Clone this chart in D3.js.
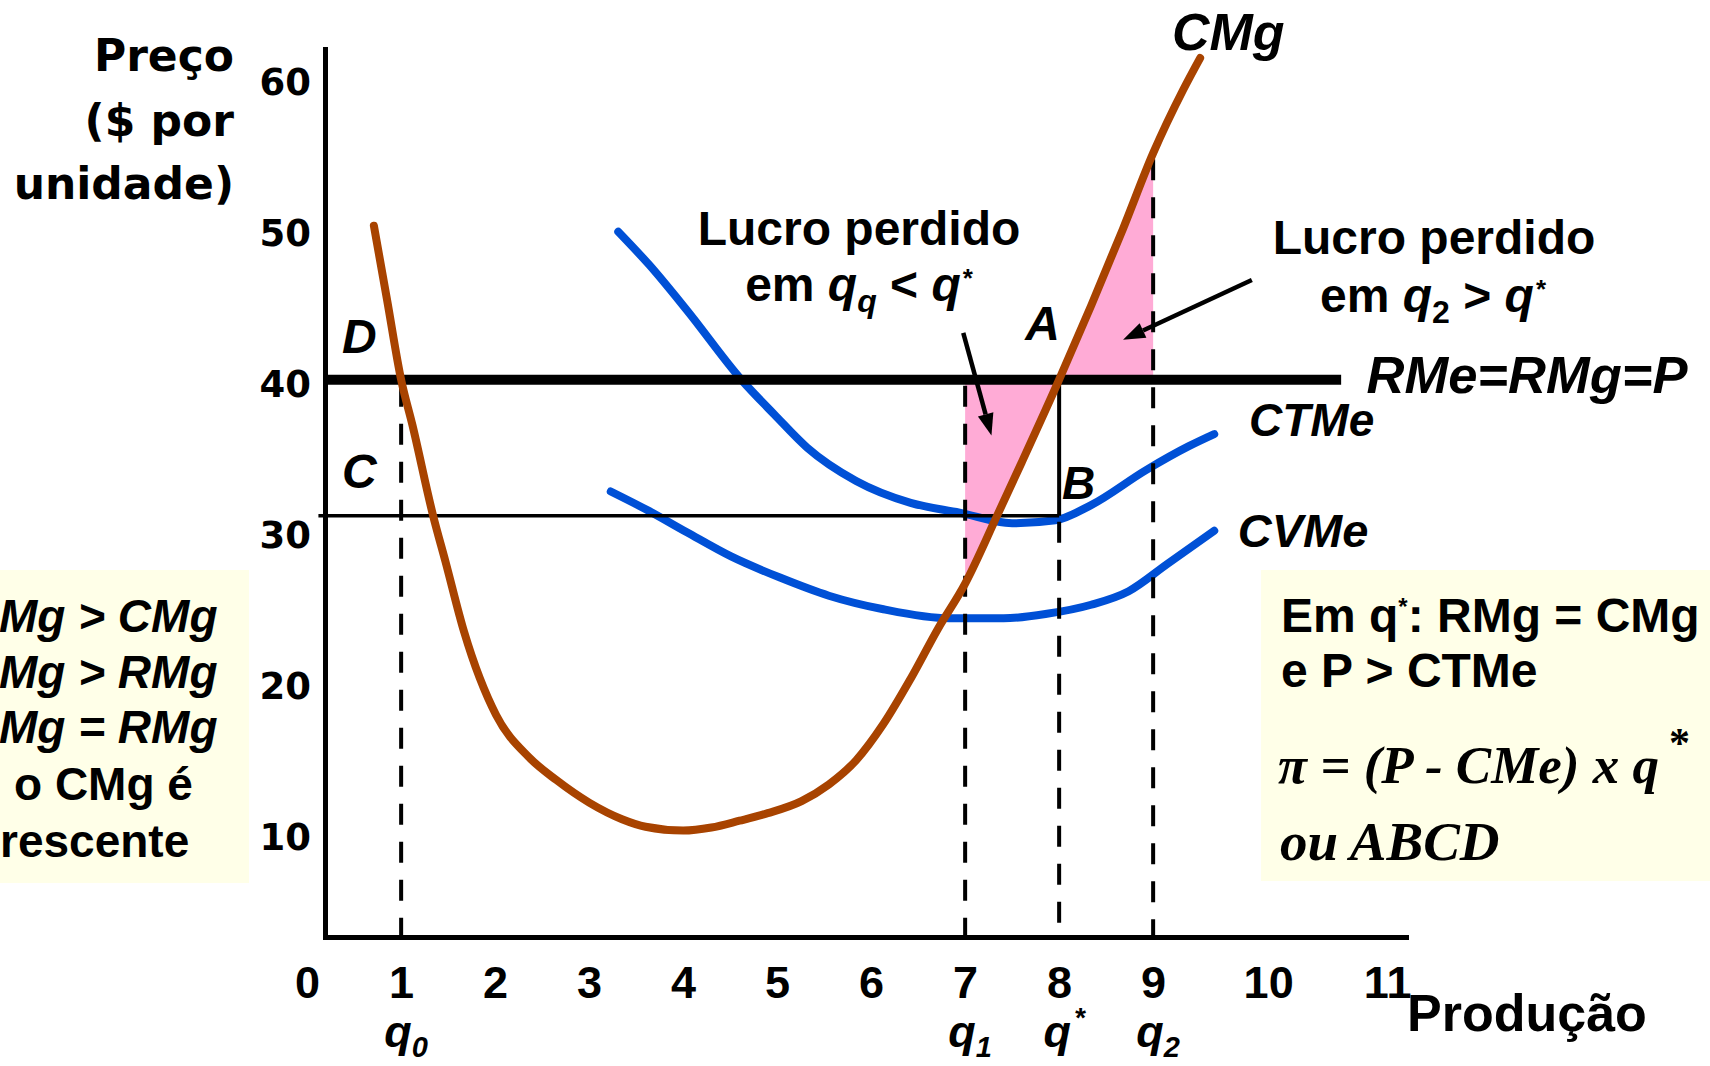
<!DOCTYPE html>
<html><head><meta charset="utf-8">
<script src="https://cdn.jsdelivr.net/npm/d3@7"></script>
<style>
html,body{margin:0;padding:0;background:#fff;overflow:hidden}
svg{display:block}
</style></head><body>
<svg id="chart" width="1710" height="1066"></svg>
<script>
// Axis ticks
const qTicks = [0, 1, 2, 3, 4, 5, 6, 7, 8, 9, 10, 11];
const priceTicks = [10, 20, 30, 40, 50, 60];

// Custo marginal (CMg)
const cmgQ = [0.71, 0.85, 1.0, 1.12, 1.34, 1.47, 1.67, 2.01, 2.36, 2.65, 3.0, 3.35, 3.6, 4.0, 4.3, 4.6, 4.9, 5.26, 5.55, 5.84, 6.13, 6.42, 6.71, 7.0, 7.34, 7.6, 8.0, 8.34, 8.68, 9.0, 9.32, 9.5];
const cmgP = [50.2, 45.3, 40.0, 37.0, 31.0, 28.0, 23.3, 17.8, 15.0, 13.5, 12.0, 10.9, 10.4, 10.15, 10.35, 10.8, 11.3, 12.1, 13.2, 14.8, 17.2, 20.2, 23.5, 26.5, 31.0, 34.5, 40.0, 44.9, 50.0, 55.0, 59.2, 61.3];

// Custo total médio (CTMe)
const ctmeQ = [3.31, 3.64, 4.04, 4.62, 4.97, 5.32, 5.84, 6.42, 6.94, 7.5, 7.96, 8.34, 8.92, 9.38, 9.65];
const ctmeP = [49.8, 47.6, 44.6, 40.0, 37.7, 35.5, 33.3, 31.85, 31.2, 30.5, 30.7, 31.7, 34.0, 35.6, 36.4];

// Custo variável médio (CVMe)
const cvmeQ = [3.23, 3.64, 4.04, 4.51, 5.03, 5.55, 6.13, 6.83, 7.41, 7.87, 8.34, 8.74, 9.15, 9.65];
const cvmeP = [32.6, 31.3, 29.9, 28.3, 26.9, 25.7, 24.8, 24.2, 24.2, 24.5, 25.1, 26.0, 27.8, 30.0];

// Market price and reference quantities
const marketPrice = 40;       // RMe = RMg = P
const avgCostAtQStar = 31;    // CTMe at q*
const qZero = 1, qOne = 7, qStar = 8, qTwo = 9;
const qMarks = [
  { q: 1, sub: "0" },
  { q: 7, sub: "1" },
  { q: 8, sup: "*" },
  { q: 9, sub: "2" }
];

const SANS = "'Liberation Sans', Arial, sans-serif";
const WIDE = "'DejaVu Sans', Verdana, sans-serif";
const SERIF = "'Liberation Serif', 'Times New Roman', serif";
const BROWN = "#a84300", BLUE = "#0050d6", PINK = "#ffabd6", NOTE = "#ffffe8";

const svg = d3.select("#chart");

const x = d3.scaleLinear().domain([0.19, 11.69]).range([325, 1406]);
const y = d3.scaleLinear().domain([3.1, 61.9]).range([937, 49]);

const toPts = (qs, ps) => qs.map((q, i) => ({ q, v: ps[i] }));
const cmg = toPts(cmgQ, cmgP);
const ctme = toPts(ctmeQ, ctmeP);
const cvme = toPts(cvmeQ, cvmeP);
const curve = d3.curveMonotoneX;
const line = d3.line().x(d => x(d.q)).y(d => y(d.v)).curve(curve);

// Note boxes
svg.append("rect").attr("x", 0).attr("y", 570).attr("width", 249).attr("height", 313).attr("fill", NOTE);
svg.append("rect").attr("x", 1261).attr("y", 570).attr("width", 449).attr("height", 311).attr("fill", NOTE);

// Lost-profit areas between CMg and price, from q1 to q2
const defs = svg.append("defs");
defs.append("clipPath").attr("id", "lostProfit")
  .append("rect")
  .attr("x", x(qOne)).attr("y", 0)
  .attr("width", x(qTwo) - x(qOne)).attr("height", 1066);
svg.append("path")
  .datum(cmg)
  .attr("clip-path", "url(#lostProfit)")
  .attr("fill", PINK)
  .attr("d", d3.area().x(d => x(d.q)).y0(y(marketPrice)).y1(d => y(d.v)).curve(curve));

// Average cost curves
svg.append("path").datum(ctme).attr("d", line)
  .attr("fill", "none").attr("stroke", BLUE).attr("stroke-width", 8).attr("stroke-linecap", "round");
svg.append("path").datum(cvme).attr("d", line)
  .attr("fill", "none").attr("stroke", BLUE).attr("stroke-width", 8).attr("stroke-linecap", "round");

// Dashed guides down to the quantity axis
const cmgAtQTwo = cmgP[cmgQ.indexOf(qTwo)];
const guides = [
  { q: qZero, top: marketPrice },
  { q: qOne, top: marketPrice },
  { q: qStar, top: avgCostAtQStar },
  { q: qTwo, top: cmgAtQTwo }
];
svg.selectAll("line.guide").data(guides).join("line")
  .attr("class", "guide")
  .attr("x1", d => x(d.q)).attr("x2", d => x(d.q))
  .attr("y1", d => y(d.top) + 6).attr("y2", y(3.1))
  .attr("stroke", "#000").attr("stroke-width", 4)
  .attr("stroke-dasharray", "21,17");

// Profit rectangle edges (C-B and B-A)
svg.append("line")
  .attr("x1", x(0.12)).attr("x2", x(qStar))
  .attr("y1", y(avgCostAtQStar)).attr("y2", y(avgCostAtQStar))
  .attr("stroke", "#000").attr("stroke-width", 3.5);
svg.append("line")
  .attr("x1", x(qStar)).attr("x2", x(qStar))
  .attr("y1", y(marketPrice)).attr("y2", y(avgCostAtQStar))
  .attr("stroke", "#000").attr("stroke-width", 4);

// Price line
svg.append("line")
  .attr("x1", x(0.19)).attr("x2", x(11))
  .attr("y1", y(marketPrice)).attr("y2", y(marketPrice))
  .attr("stroke", "#000").attr("stroke-width", 10);

// Marginal cost curve
svg.append("path").datum(cmg).attr("d", line)
  .attr("fill", "none").attr("stroke", BROWN).attr("stroke-width", 8).attr("stroke-linecap", "round");

// Axes
const yAxis = svg.append("g")
  .attr("transform", `translate(${x(0.19)},0)`)
  .call(d3.axisLeft(y).tickValues(priceTicks).tickSize(0).tickSizeOuter(0).tickPadding(14));
yAxis.select(".domain").attr("stroke", "#000").attr("stroke-width", 5).attr("stroke-linecap", "square");
yAxis.selectAll("text")
  .attr("font-family", WIDE).attr("font-weight", "bold").attr("font-size", 37)
  .attr("fill", "#000").attr("dy", "0.46em");

const xAxis = svg.append("g")
  .attr("transform", `translate(0,${y(3.1)})`)
  .call(d3.axisBottom(x).tickValues(qTicks).tickSize(0).tickSizeOuter(0).tickPadding(29));
xAxis.select(".domain").attr("stroke", "#000").attr("stroke-width", 5).attr("stroke-linecap", "square");
xAxis.selectAll("text")
  .attr("font-family", SANS).attr("font-weight", "bold").attr("font-size", 45)
  .attr("fill", "#000")
  .attr("dx", d => d === 10 ? 21 : d === 11 ? 46 : 0);

// Quantity markers under the axis
const qm = svg.append("g").attr("font-family", SANS).attr("font-weight", "bold")
  .attr("font-style", "italic").attr("fill", "#000");
qMarks.forEach(m => {
  const t = qm.append("text").attr("x", x(m.q) + 5).attr("y", 1047)
    .attr("text-anchor", "middle").attr("font-size", 45);
  t.append("tspan").text("q");
  if (m.sub) t.append("tspan").attr("font-size", 29).attr("dy", 10).text(m.sub);
  if (m.sup) t.append("tspan").attr("font-size", 28).attr("dy", -20).attr("dx", 3).text(m.sup);
});

// Axis titles
const yTitle = svg.append("text").attr("font-family", WIDE).attr("font-weight", "bold")
  .attr("font-size", 44).attr("text-anchor", "end").attr("fill", "#000");
[["Preço", 71], ["($ por", 136], ["unidade)", 199]].forEach(([t, by]) =>
  yTitle.append("tspan").attr("x", 234).attr("y", by).text(t));

svg.append("text").attr("x", 1407).attr("y", 1031)
  .attr("font-family", SANS).attr("font-weight", "bold").attr("font-size", 52)
  .attr("fill", "#000").text("Produção");

// Curve and point labels
const labels = [
  { t: "CMg", q: 9.2, v: 61.85, size: 52 },
  { t: "RMe=RMg=P", q: 11.27, v: 39.1, size: 52.5 },
  { t: "CTMe", q: 10.02, v: 36.3, size: 46 },
  { t: "CVMe", q: 9.9, v: 28.9, size: 47 },
  { t: "D", q: 0.37, v: 41.8, size: 48 },
  { t: "C", q: 0.37, v: 32.85, size: 48 },
  { t: "A", q: 7.64, v: 42.6, size: 48 },
  { t: "B", q: 8.03, v: 32.1, size: 46 }
];
svg.append("g").selectAll("text").data(labels).join("text")
  .attr("x", d => x(d.q)).attr("y", d => y(d.v))
  .attr("font-family", SANS).attr("font-weight", "bold").attr("font-style", "italic")
  .attr("font-size", d => d.size).attr("fill", "#000")
  .text(d => d.t);

// Lost-profit callouts
function rich(px, py, parts, anchor, size, family) {
  const t = svg.append("text").attr("x", px).attr("y", py)
    .attr("text-anchor", anchor || "start")
    .attr("font-family", family || SANS).attr("font-weight", "bold")
    .attr("font-size", size || 48).attr("fill", "#000");
  parts.forEach(p => {
    const s = t.append("tspan").text(p.t);
    if (p.it) s.attr("font-style", "italic");
    if (p.size) s.attr("font-size", p.size);
    if (p.dy) s.attr("dy", p.dy);
    if (p.dx) s.attr("dx", p.dx);
  });
  return t;
}
rich(859, 245, [{ t: "Lucro perdido" }], "middle");
rich(859, 301, [
  { t: "em " }, { t: "q", it: 1 }, { t: "q", it: 1, size: 32, dy: 11 },
  { t: " < ", dy: -11 }, { t: "q", it: 1 }, { t: "*", size: 26, dy: -14, dx: 2 }
], "middle");
rich(1434, 254, [{ t: "Lucro perdido" }], "middle");
rich(1433, 312, [
  { t: "em " }, { t: "q", it: 1 }, { t: "2", size: 32, dy: 11 },
  { t: " > ", dy: -11 }, { t: "q", it: 1 }, { t: "*", size: 26, dy: -14, dx: 2 }
], "middle");

// Arrows pointing at the shaded areas
const arrows = [
  { from: [6.98, 43.1], to: [7.28, 36.3] },
  { from: [10.05, 46.6], to: [8.68, 42.65] }
];
arrows.forEach(a => {
  const x1 = x(a.from[0]), y1 = y(a.from[1]), x2 = x(a.to[0]), y2 = y(a.to[1]);
  const ang = Math.atan2(y2 - y1, x2 - x1);
  const len = 22, half = 8;
  const bx = x2 - len * Math.cos(ang), by = y2 - len * Math.sin(ang);
  svg.append("line").attr("x1", x1).attr("y1", y1).attr("x2", bx).attr("y2", by)
    .attr("stroke", "#000").attr("stroke-width", 4.5);
  svg.append("path")
    .attr("d", `M${x2},${y2}L${bx + half * Math.sin(ang)},${by - half * Math.cos(ang)}L${bx - half * Math.sin(ang)},${by + half * Math.cos(ang)}Z`)
    .attr("fill", "#000");
});

// Left note
const leftNote = [
  { t: "Mg > CMg", it: 1, x: -1, by: 632 },
  { t: "Mg > RMg", it: 1, x: -1, by: 688 },
  { t: "Mg = RMg", it: 1, x: -1, by: 743 },
  { t: "o CMg é", it: 0, x: 14, by: 800 },
  { t: "rescente", it: 0, x: 0, by: 857 }
];
svg.append("g").selectAll("text").data(leftNote).join("text")
  .attr("x", d => d.x).attr("y", d => d.by)
  .attr("font-family", SANS).attr("font-weight", "bold").attr("font-size", 46)
  .attr("font-style", d => d.it ? "italic" : "normal").attr("fill", "#000")
  .text(d => d.t);

// Right note
rich(1281, 632, [
  { t: "Em q" }, { t: "*", size: 24, dy: -17 }, { t: ": RMg = CMg", dy: 17 }
], "start", 48);
rich(1281, 687, [{ t: "e P > CTMe" }], "start", 48);
rich(1278, 783, [
  { t: "π = (P - CMe) x q", it: 1 }, { t: "*", size: 42, dy: -26, dx: 10 }
], "start", 53, SERIF);
rich(1280, 860, [{ t: "ou ABCD", it: 1 }], "start", 55, SERIF);
</script>
</body></html>
